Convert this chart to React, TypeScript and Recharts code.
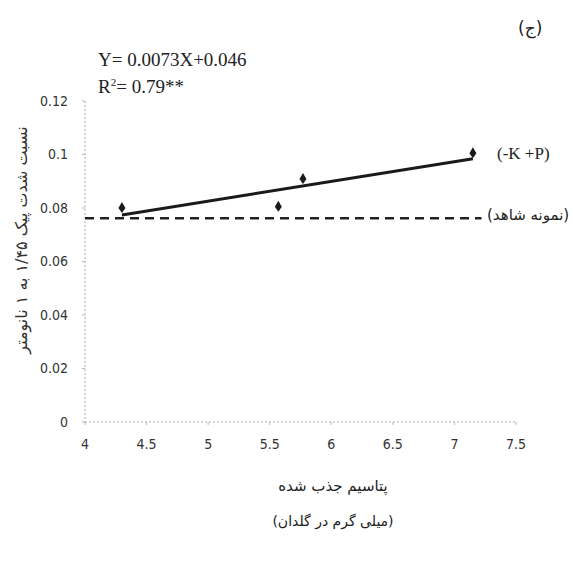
import {
  ComposedChart,
  Scatter,
  XAxis,
  YAxis,
} from "recharts";

// measured points (potassium uptake vs. peak intensity ratio)
const potassium = [4.3, 5.57, 5.77, 7.15];
const ratio = [0.08, 0.0805, 0.0908, 0.1005];

// fitted line end points
const fitX = [4.3, 7.15];
const fitY = [0.0774, 0.0984];

// control sample (dashed) line
const controlX = [4.0, 7.22];
const controlY = [0.0762, 0.0762];

const xTicks = [4, 4.5, 5, 5.5, 6, 6.5, 7, 7.5];
const yTicks = [0, 0.02, 0.04, 0.06, 0.08, 0.1, 0.12];

const points = potassium.map((x, i) => ({ x, y: ratio[i] }));
const fitLine = fitX.map((x, i) => ({ x, y: fitY[i] }));
const controlLine = controlX.map((x, i) => ({ x, y: controlY[i] }));

const tickFont = "'Liberation Sans Narrow', 'DejaVu Sans Condensed', Arial, sans-serif";
const serif = "'Liberation Serif', 'DejaVu Serif', serif";
const persian = "'DejaVu Sans', 'Noto Sans', sans-serif";

function Diamond(props: { cx?: number; cy?: number }) {
  const { cx = 0, cy = 0 } = props;
  return (
    <path
      d={`M${cx},${cy - 6} L${cx + 3.5},${cy} L${cx},${cy + 5} L${cx - 3.5},${cy} Z`}
      fill="#1a1a1a"
    />
  );
}

const NoDot = () => <g />;

export default function App() {
  return (
    <div
      style={{
        position: "absolute",
        left: 0,
        top: 0,
        width: 573,
        height: 565,
        background: "#fff",
      }}
    >
      <ComposedChart
        width={573}
        height={565}
        margin={{ top: 101, right: 57, left: 25, bottom: 113 }}
      >
        <XAxis
          type="number"
          dataKey="x"
          domain={[4, 7.5]}
          ticks={xTicks}
          interval={0}
          height={30}
          tickSize={3}
          tickLine={{ stroke: "#bbb" }}
          axisLine={{ stroke: "#aaa", strokeDasharray: "2 2" }}
          tick={{ fill: "#333", fontSize: 14, fontFamily: tickFont }}
          tickMargin={14}
          allowDuplicatedCategory={false}
        />
        <YAxis
          type="number"
          dataKey="y"
          domain={[0, 0.12]}
          ticks={yTicks}
          interval={0}
          width={60}
          tickSize={3}
          tickLine={{ stroke: "#bbb" }}
          axisLine={{ stroke: "#aaa", strokeDasharray: "2 2" }}
          tick={{ fill: "#333", fontSize: 14, fontFamily: tickFont }}
          tickMargin={14}
          label={{
            content: () => (
              <text
                x={22}
                y={240}
                transform="rotate(-90 22 240)"
                textAnchor="middle"
                dominantBaseline="middle"
                fontFamily={persian}
                fontSize={16}
                fill="#333"
                direction="rtl"
              >
                نسبت شدت پیک ۱/۴۵ به ۱ نانومتر
              </text>
            ),
          }}
        />
        <Scatter
          data={controlLine}
          line={{ stroke: "#222", strokeWidth: 2.5, strokeDasharray: "9 6" }}
          shape={NoDot}
          isAnimationActive={false}
        />
        <Scatter
          data={fitLine}
          line={{ stroke: "#1a1a1a", strokeWidth: 3 }}
          shape={NoDot}
          isAnimationActive={false}
        />
        <Scatter
          data={points}
          shape={Diamond}
          isAnimationActive={false}
        />
      </ComposedChart>

      <div
        style={{
          position: "absolute",
          left: 518,
          top: 18,
          fontFamily: persian,
          fontSize: 17,
          color: "#222",
        }}
      >
        (ج)
      </div>
      <div
        style={{
          position: "absolute",
          left: 98,
          top: 48,
          fontFamily: serif,
          fontSize: 19,
          color: "#222",
          lineHeight: "23px",
          whiteSpace: "nowrap",
        }}
      >
        <div>Y= 0.0073X+0.046</div>
        <div>
          R<sup style={{ fontSize: 11 }}>2</sup>= 0.79**
        </div>
      </div>
      <div
        style={{
          position: "absolute",
          left: 497,
          top: 144,
          fontFamily: serif,
          fontSize: 17,
          color: "#222",
          whiteSpace: "nowrap",
        }}
      >
        (-K +P)
      </div>
      <div
        style={{
          position: "absolute",
          left: 487,
          top: 206,
          fontFamily: persian,
          fontSize: 15,
          color: "#222",
          whiteSpace: "nowrap",
          direction: "rtl",
        }}
      >
        (نمونه شاهد)
      </div>
      <div
        style={{
          position: "absolute",
          left: 223,
          width: 220,
          top: 469,
          textAlign: "center",
          fontFamily: persian,
          fontSize: 14,
          color: "#222",
          lineHeight: "35px",
          direction: "rtl",
        }}
      >
        <div style={{ fontSize: 15 }}>پتاسیم جذب شده</div>
        <div>(میلی گرم در گلدان)</div>
      </div>
    </div>
  );
}
